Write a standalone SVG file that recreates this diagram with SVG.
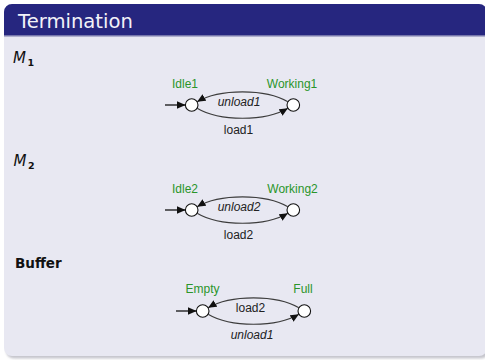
<svg xmlns="http://www.w3.org/2000/svg" width="485" height="360" viewBox="0 0 485 360">
  <defs>
    <marker id="tip" viewBox="0 0 8 7" refX="8" refY="3.5" markerWidth="8.5" markerHeight="7.5" markerUnits="userSpaceOnUse" orient="auto">
      <path d="M0,0 L8,3.5 L0,7 Z" fill="#111"/>
    </marker>
    <linearGradient id="titleShade" x1="0" y1="0" x2="0" y2="1">
      <stop offset="0" stop-color="#5a5a9a"/>
      <stop offset="1" stop-color="#e6e6f0"/>
    </linearGradient>
    <filter id="soft" x="-5%" y="-5%" width="110%" height="110%">
      <feGaussianBlur stdDeviation="1"/>
    </filter>
    <clipPath id="blockClip">
      <rect x="4" y="4" width="483" height="352" rx="8" ry="8"/>
    </clipPath>
  </defs>
  <style>
    .title { font-family: "DejaVu Sans", sans-serif; font-size: 19.6px; fill: #f2f2f8; }
    .head { font-family: "DejaVu Sans", sans-serif; font-size: 15px; fill: #111; }
    .bold { font-size: 13.5px; font-weight: bold; }
    .math { font-style: italic; }
    .sub { font-family: "DejaVu Sans", sans-serif; font-size: 9.5px; font-weight: bold; fill: #111; }
    .state { fill: #fff; stroke: #111; stroke-width: 1.1; }
    .name { font-family: "Liberation Sans", Arial, sans-serif; font-size: 12px; fill: #2a952a; text-anchor: middle; }
    .lbl { font-family: "Liberation Sans", Arial, sans-serif; font-size: 12px; fill: #222; text-anchor: middle; }
    .it { font-style: italic; }
    .edge { fill: none; stroke: #3c3c3c; stroke-width: 1.1; marker-end: url(#tip); }
    .init { fill: none; stroke: #111; stroke-width: 1.3; marker-end: url(#tip); }
  </style>

  <!-- block frame -->
  <g id="block">
    <rect x="6" y="6.5" width="483" height="352" rx="8" ry="8" fill="#a0a0ac" filter="url(#soft)" opacity="0.6"/>
    <rect x="4" y="4" width="483" height="352" rx="8" ry="8" fill="#e8e8f2"/>
    <g clip-path="url(#blockClip)">
      <rect x="4" y="4" width="483" height="31" fill="#26267f"/>
      <rect x="4" y="35" width="483" height="2.5" fill="url(#titleShade)"/>
    </g>
    <text class="title" x="18" y="28.3">Termination</text>
  </g>

  <!-- section headings -->
  <g id="head-m1">
    <text class="head math" x="13" y="62.5">M</text>
    <text class="sub" x="27.5" y="65.5">1</text>
  </g>
  <g id="head-m2">
    <text class="head math" x="13.5" y="165.5">M</text>
    <text class="sub" x="28" y="168.5">2</text>
  </g>
  <g id="head-buffer">
    <text class="head bold" x="15" y="268.3">Buffer</text>
  </g>

  <!-- states -->
  <g id="idle1">
    <circle class="state" cx="191.7" cy="105" r="6.3"/>
    <text class="name" x="185" y="87.5">Idle1</text>
  </g>
  <g id="working1">
    <circle class="state" cx="293.3" cy="105" r="6.3"/>
    <text class="name" x="292" y="87.5">Working1</text>
  </g>
  <g id="idle2">
    <circle class="state" cx="191.7" cy="210" r="6.3"/>
    <text class="name" x="185" y="192.5">Idle2</text>
  </g>
  <g id="working2">
    <circle class="state" cx="293.3" cy="210" r="6.3"/>
    <text class="name" x="292.5" y="192.5">Working2</text>
  </g>
  <g id="empty">
    <circle class="state" cx="202.7" cy="311" r="6.3"/>
    <text class="name" x="202.5" y="293.3">Empty</text>
  </g>
  <g id="full">
    <circle class="state" cx="304.3" cy="311" r="6.3"/>
    <text class="name" x="303" y="293.3">Full</text>
  </g>

  <!-- transitions -->
  <g id="connectors">
    <!-- M1 -->
    <path class="init" d="M165,105 L185.4,105"/>
    <path class="edge" d="M287.9,101.8 C265.6,88.5 219.4,88.5 197.1,101.8"/>
    <path class="edge" d="M197.1,108.2 C219.4,121.5 265.6,121.5 287.9,108.2"/>
    <text class="lbl it" x="239" y="106">unload1</text>
    <text class="lbl" x="238.5" y="133.5">load1</text>

    <!-- M2 -->
    <path class="init" d="M165,210 L185.4,210"/>
    <path class="edge" d="M287.9,206.8 C265.6,193.5 219.4,193.5 197.1,206.8"/>
    <path class="edge" d="M197.1,213.2 C219.4,226.5 265.6,226.5 287.9,213.2"/>
    <text class="lbl it" x="239" y="211">unload2</text>
    <text class="lbl" x="238.5" y="238.5">load2</text>

    <!-- Buffer -->
    <path class="init" d="M176,311 L196.4,311"/>
    <path class="edge" d="M298.9,307.8 C276.6,294.5 230.4,294.5 208.1,307.8"/>
    <path class="edge" d="M208.1,314.2 C230.4,327.5 276.6,327.5 298.9,314.2"/>
    <text class="lbl" x="250.5" y="311.5">load2</text>
    <text class="lbl it" x="252" y="339.3">unload1</text>
  </g>
</svg>
